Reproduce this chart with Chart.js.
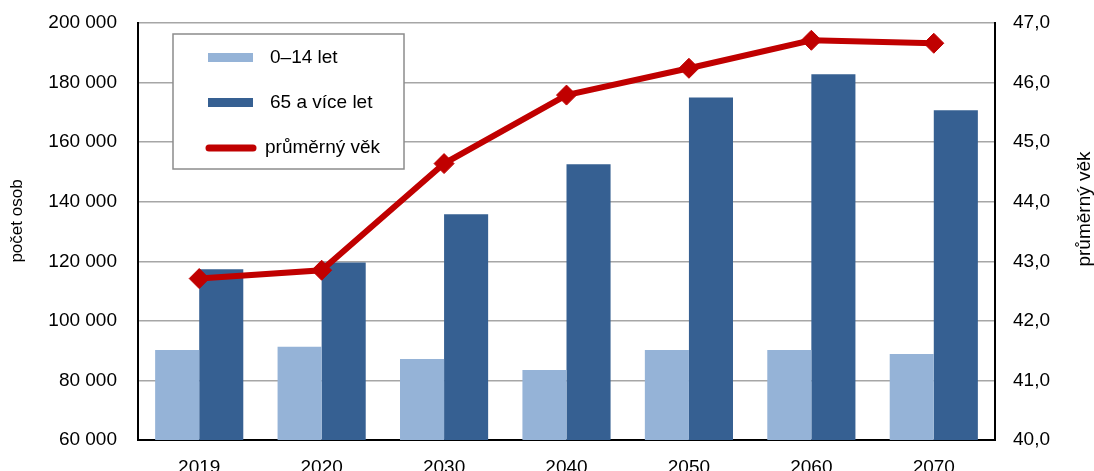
<!DOCTYPE html>
<html lang="cs">
<head>
<meta charset="UTF-8">
<title>Věková struktura</title>
<script src="https://cdn.jsdelivr.net/npm/chart.js"></script>
<style>
  body { margin: 0; background: #fff; overflow: hidden; }
  canvas { display: block; }
</style>
</head>
<body>
<canvas id="myChart" width="1094" height="471" style="width:1094px;height:471px"></canvas>

<script>
  const roky = ['2019', '2020', '2030', '2040', '2050', '2060', '2070'];
  const deti = [90200, 91300, 87200, 83500, 90200, 90200, 88900];
  const seniori = [117300, 119600, 135800, 152600, 175000, 182800, 170700];
  const prumerny_vek = [42.71, 42.85, 44.64, 45.79, 46.24, 46.71, 46.66];

  const nazvy = ['0–14 let', '65 a více let', 'průměrný věk'];
  const barvy = ['#95b3d7', '#366092', '#c00000'];

  Chart.defaults.font.family = "'Liberation Sans', Arial, sans-serif";
  Chart.defaults.font.size = 19;
  Chart.defaults.color = '#000';

  // legenda uvnitr grafu + nazvy os (otocene zdola nahoru)
  const vlastniKresleni = {
    id: 'vlastniKresleni',
    afterDraw(chart) {
      const c = chart.ctx;
      c.save();
      c.fillStyle = '#fff';
      c.fillRect(173, 34, 231, 135);
      c.strokeStyle = '#8c8c8c';
      c.lineWidth = 1.5;
      c.strokeRect(173, 34, 231, 135);

      c.fillStyle = barvy[0];
      c.fillRect(208, 53, 45, 9);
      c.fillStyle = barvy[1];
      c.fillRect(208, 98, 45, 9);

      c.strokeStyle = barvy[2];
      c.lineWidth = 7;
      c.lineCap = 'round';
      c.beginPath();
      c.moveTo(209, 148);
      c.lineTo(253, 148);
      c.stroke();

      c.fillStyle = '#000';
      c.font = "19px 'Liberation Sans', Arial, sans-serif";
      c.textBaseline = 'middle';
      c.fillText(nazvy[0], 270, 58);
      c.fillText(nazvy[1], 270, 103);
      c.fillText(nazvy[2], 265, 148);

      c.textAlign = 'center';
      c.save();
      c.translate(1085, 209);
      c.rotate(-Math.PI / 2);
      c.fillText('průměrný věk', 0, 0);
      c.restore();

      c.font = "17px 'Liberation Sans', Arial, sans-serif";
      c.translate(17, 221);
      c.rotate(-Math.PI / 2);
      c.fillText('počet osob', 0, 0);
      c.restore();
    }
  };

  const ctx = document.getElementById('myChart');

  new Chart(ctx, {
    type: 'bar',
    data: {
      labels: roky,
      datasets: [
        {
          label: nazvy[0],
          data: deti,
          backgroundColor: barvy[0],
          yAxisID: 'y',
          order: 1
        },
        {
          label: nazvy[1],
          data: seniori,
          backgroundColor: barvy[1],
          yAxisID: 'y',
          order: 2
        },
        {
          type: 'line',
          label: nazvy[2],
          data: prumerny_vek,
          borderColor: barvy[2],
          backgroundColor: barvy[2],
          borderWidth: 6,
          pointStyle: 'rectRot',
          pointRadius: 10,
          pointBorderWidth: 1,
          tension: 0,
          yAxisID: 'y1',
          order: 0
        }
      ]
    },
    options: {
      responsive: false,
      animation: false,
      layout: { padding: { top: 23, left: 0, right: 0, bottom: 0 } },
      datasets: {
        bar: { categoryPercentage: 0.72, barPercentage: 1 }
      },
      plugins: {
        legend: { display: false },
        tooltip: { enabled: false }
      },
      scales: {
        x: {
          grid: { display: false },
          border: { color: '#000', width: 2 },
          ticks: { padding: 8, maxRotation: 0 },
          afterFit(scale) { scale.height = 31; }
        },
        y: {
          position: 'left',
          min: 60000,
          max: 200000,
          grid: { color: '#a6a6a6', lineWidth: 1.5, drawTicks: false },
          border: { color: '#000', width: 2 },
          ticks: {
            stepSize: 20000,
            padding: 21,
            callback: v => String(v).replace(/\B(?=(\d{3})+(?!\d))/g, ' ')
          },
          afterFit(scale) {
            scale.width = 138;
            scale.paddingTop = 0;
            scale.paddingBottom = 0;
          }
        },
        y1: {
          position: 'right',
          min: 40,
          max: 47,
          grid: { display: false, drawTicks: false },
          border: { color: '#000', width: 2 },
          ticks: {
            stepSize: 1,
            padding: 18,
            callback: v => v.toFixed(1).replace('.', ',')
          },
          afterFit(scale) {
            scale.width = 99;
            scale.paddingTop = 0;
            scale.paddingBottom = 0;
          }
        }
      }
    },
    plugins: [vlastniKresleni]
  });
</script>
</body>
</html>
